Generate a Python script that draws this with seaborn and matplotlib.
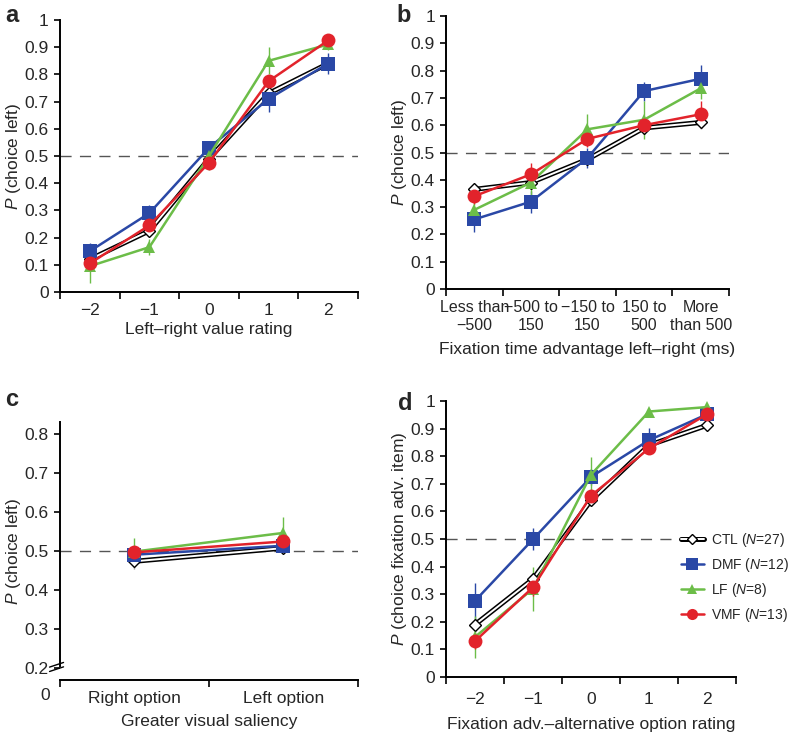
import matplotlib
matplotlib.use('Agg')
import matplotlib.pyplot as plt
import seaborn as sns
from matplotlib.legend_handler import HandlerTuple

# ---- data ----
groups = ['CTL', 'DMF', 'LF', 'VMF']
group_n = [27, 12, 8, 13]

rating_x = [-2, -1, 0, 1, 2]
rating_labels = ['\u22122', '\u22121', '0', '1', '2']

a_ctl = [0.12, 0.225, 0.49, 0.73, 0.84]
a_dmf = [0.15, 0.29, 0.53, 0.71, 0.84]
a_lf = [0.095, 0.165, 0.50, 0.85, 0.91]
a_vmf = [0.105, 0.245, 0.475, 0.775, 0.925]
a_ctl_se = [0.02, 0.02, 0.02, 0.02, 0.02]
a_dmf_se = [0.03, 0.03, 0.02, 0.05, 0.04]
a_lf_se = [0.06, 0.03, 0.05, 0.05, 0.02]
a_vmf_se = [0.02, 0.02, 0.02, 0.02, 0.02]

fix_x = [0, 1, 2, 3, 4]
fix_labels = ['Less than\n\u2212500', '\u2212500 to\n150', '\u2212150 to\n150',
              '150 to\n500', 'More\nthan 500']
b_ctl = [0.365, 0.39, 0.475, 0.59, 0.61]
b_dmf = [0.255, 0.32, 0.48, 0.725, 0.77]
b_lf = [0.29, 0.39, 0.585, 0.62, 0.735]
b_vmf = [0.34, 0.42, 0.55, 0.60, 0.64]
b_ctl_se = [0.015, 0.02, 0.02, 0.02, 0.025]
b_dmf_se = [0.045, 0.04, 0.035, 0.035, 0.05]
b_lf_se = [0.03, 0.05, 0.055, 0.07, 0.04]
b_vmf_se = [0.03, 0.04, 0.03, 0.025, 0.05]

sal_x = [0, 1]
sal_labels = ['Right option', 'Left option']
c_ctl = [0.474, 0.508]
c_dmf = [0.491, 0.514]
c_lf = [0.499, 0.547]
c_vmf = [0.497, 0.525]
c_ctl_se = [0.02, 0.01]
c_dmf_se = [0.01, 0.01]
c_lf_se = [0.035, 0.04]
c_vmf_se = [0.015, 0.015]

d_ctl = [0.19, 0.355, 0.64, 0.84, 0.912]
d_dmf = [0.276, 0.499, 0.725, 0.858, 0.952]
d_lf = [0.145, 0.32, 0.733, 0.962, 0.978]
d_vmf = [0.13, 0.325, 0.657, 0.828, 0.952]
d_ctl_se = [0.02, 0.02, 0.02, 0.02, 0.01]
d_dmf_se = [0.065, 0.04, 0.03, 0.045, 0.02]
d_lf_se = [0.075, 0.08, 0.065, 0.01, 0.01]
d_vmf_se = [0.03, 0.03, 0.02, 0.02, 0.02]

colors = {'CTL': 'white', 'DMF': '#2a48a6', 'LF': '#6cbd48', 'VMF': '#e2232b'}
markers = {'CTL': 'D', 'DMF': 's', 'LF': '^', 'VMF': 'o'}
msizes = {'CTL': 6.5, 'DMF': 10, 'LF': 9, 'VMF': 10}
FS = 12.5


def configure_styles():
    sns.set_style("ticks")
    plt.rcParams['font.family'] = ['Liberation Sans', 'DejaVu Sans']
    plt.rcParams['mathtext.fontset'] = 'custom'
    plt.rcParams['mathtext.rm'] = 'Liberation Sans'
    plt.rcParams['mathtext.it'] = 'Liberation Sans:italic'
    plt.rcParams['axes.linewidth'] = 1.4
    plt.rcParams['axes.edgecolor'] = 'black'


def draw_series(ax, x, series, errs):
    handles = {}
    for g, y, e in zip(groups, series, errs):
        c = colors[g]
        ecol = '#999999' if g == 'CTL' else c
        ax.vlines(x, [v - s for v, s in zip(y, e)], [v + s for v, s in zip(y, e)],
                  color=ecol, lw=1.0, zorder=2)
        if g == 'CTL':
            # white line with black outline
            sns.lineplot(x=x, y=y, ax=ax, color='black', lw=3.6, zorder=3)
            under = ax.lines[-1]
            sns.lineplot(x=x, y=y, ax=ax, color='white', lw=1.4, marker='D',
                         markersize=msizes[g], markerfacecolor='white',
                         markeredgecolor='black', markeredgewidth=1.0, zorder=3)
            handles[g] = (under, ax.lines[-1])
        else:
            sns.lineplot(x=x, y=y, ax=ax, color=c, lw=1.8, marker=markers[g],
                         markersize=msizes[g], markerfacecolor=c,
                         markeredgecolor=c, markeredgewidth=0, zorder=4)
            handles[g] = ax.lines[-1]
    return handles


def style_axes(ax, xpos, xlabels, ylim, yticks, yticklabels, xfs=FS, dash_end=1.0):
    sns.despine(ax=ax)
    ax.set_xlim(xpos[0] - 0.5, xpos[-1] + 0.5)
    ax.set_xticks(xpos)
    ax.set_xticklabels(xlabels, fontsize=xfs)
    ax.set_xticks([p - 0.5 for p in xpos] + [xpos[-1] + 0.5], minor=True)
    ax.tick_params(axis='x', which='major', length=0, pad=8)
    ax.tick_params(axis='x', which='minor', length=5, width=1.4, direction='out')
    ax.set_ylim(*ylim)
    ax.set_yticks(yticks)
    ax.set_yticklabels(yticklabels, fontsize=FS)
    ax.tick_params(axis='y', length=4, width=1.4, direction='out', pad=4)
    ax.axhline(0.5, xmax=dash_end, color='#555555', lw=1.0, dashes=(8, 6), zorder=1)


configure_styles()
fig = plt.figure(figsize=(7.88, 7.33), dpi=100)

ticks01 = [i / 10 for i in range(11)]
labels01 = ['0'] + ['%.1f' % t for t in ticks01[1:-1]] + ['1']

# a
ax_a = fig.add_axes([0.0761, 0.6016, 0.3782, 0.3711])
draw_series(ax_a, rating_x, [a_ctl, a_dmf, a_lf, a_vmf],
            [a_ctl_se, a_dmf_se, a_lf_se, a_vmf_se])
style_axes(ax_a, rating_x, rating_labels, (0, 1), ticks01, labels01)
ax_a.set_xlabel('Left\u2013right value rating', fontsize=FS, labelpad=3)
ax_a.set_ylabel(r'$\it{P}$ (choice left)', fontsize=FS, labelpad=1)

# b
ax_b = fig.add_axes([0.566, 0.6057, 0.3591, 0.3725])
draw_series(ax_b, fix_x, [b_ctl, b_dmf, b_lf, b_vmf],
            [b_ctl_se, b_dmf_se, b_lf_se, b_vmf_se])
style_axes(ax_b, fix_x, fix_labels, (0, 1), ticks01, labels01, xfs=11.5)
ax_b.set_xlabel('Fixation time advantage left\u2013right (ms)', fontsize=FS, labelpad=7)
ax_b.set_ylabel(r'$\it{P}$ (choice left)', fontsize=FS, labelpad=1)

# c
c_lo, c_hi = 0.169, 0.832
ax_c = fig.add_axes([0.0761, 0.0723, 0.3782, 0.3520])
draw_series(ax_c, sal_x, [c_ctl, c_dmf, c_lf, c_vmf],
            [c_ctl_se, c_dmf_se, c_lf_se, c_vmf_se])
c_ticks = [0.2, 0.3, 0.4, 0.5, 0.6, 0.7, 0.8]
style_axes(ax_c, sal_x, sal_labels, (c_lo, c_hi), c_ticks, ['%.1f' % t for t in c_ticks])
ax_c.spines['left'].set_bounds(0.205, c_hi)
ax_c.text(-0.035, -0.03, '0', transform=ax_c.transAxes, ha='right', va='top', fontsize=FS)
for yb in (0.033, 0.050):
    ax_c.plot([-0.035, 0.012], [yb, yb + 0.018], transform=ax_c.transAxes,
              color='black', lw=1.0, clip_on=False)
ax_c.set_xlabel('Greater visual saliency', fontsize=FS, labelpad=6)
ax_c.set_ylabel(r'$\it{P}$ (choice left)', fontsize=FS, labelpad=1)

# d
ax_d = fig.add_axes([0.566, 0.0764, 0.368, 0.3765])
hd = draw_series(ax_d, rating_x, [d_ctl, d_dmf, d_lf, d_vmf],
                 [d_ctl_se, d_dmf_se, d_lf_se, d_vmf_se])
style_axes(ax_d, rating_x, rating_labels, (0, 1), ticks01, labels01, dash_end=0.8)
ax_d.tick_params(axis='x', which='major', pad=11)
ax_d.set_xlabel('Fixation adv.\u2013alternative option rating', fontsize=FS, labelpad=7)
ax_d.set_ylabel(r'$\it{P}$ (choice fixation adv. item)', fontsize=FS, labelpad=1)

leg_labels = ['%s ($\\it{N}$=%d)' % (g, n) for g, n in zip(groups, group_n)]
ax_d.legend([hd[g] for g in groups], leg_labels,
            handler_map={tuple: HandlerTuple(ndivide=1)},
            loc='upper left', bbox_to_anchor=(681 / 788, 1 - 531 / 733),
            bbox_transform=fig.transFigure, frameon=False, fontsize=10,
            handlelength=1.65, handletextpad=0.5, labelspacing=0.5,
            markerscale=0.8, borderpad=0, borderaxespad=0)

# panel letters
for lab, (px, py) in zip('abcd', [(5, 4), (396, 4), (5, 388), (398, 392)]):
    fig.text(px / 788, 1 - py / 733, lab, fontsize=17, fontweight='bold',
             ha='left', va='top')

fig.savefig('out.png', dpi=100)
